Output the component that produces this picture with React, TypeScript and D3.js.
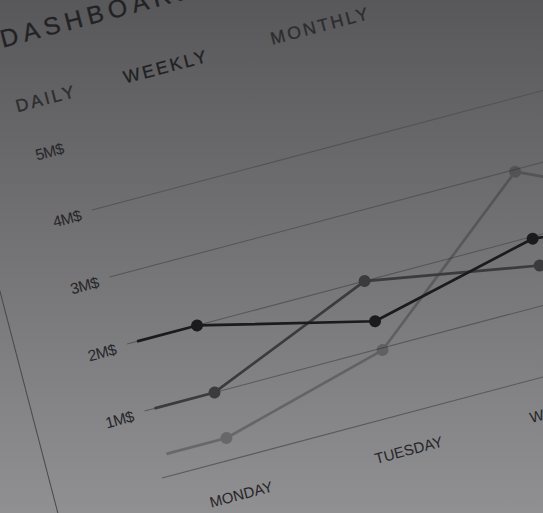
import React, { useRef, useEffect } from 'react';
import * as d3 from 'd3';

// chart values
const days = ['MONDAY', 'TUESDAY', 'WEDNESDAY', 'THURSDAY'];
const seriesA = [2.0, 1.4, 1.97, 1.7];
const seriesB = [1.0, 2.0, 1.57, 1.9];
const seriesC = [0.32, 0.97, 2.97, 1.8];
const yTicks = [1, 2, 3, 4, 5];
const gridValues = [0, 1, 2, 3, 4];
const tabs = ['DAILY', 'WEEKLY', 'MONTHLY'];
const title = 'DASHBOARD';

const App = () => {
  const ref = useRef<SVGSVGElement | null>(null);

  useEffect(() => {
    if (!ref.current) return;
    const svg = d3.select(ref.current);
    svg.selectAll('*').remove();

    const W = 543;
    const H = 513;

    const defs = svg.append('defs');
    const grad = defs.append('linearGradient')
      .attr('id', 'bg')
      .attr('x1', 0).attr('y1', 0).attr('x2', 0).attr('y2', 1);
    grad.append('stop').attr('offset', '0%').attr('stop-color', '#58575a');
    grad.append('stop').attr('offset', '100%').attr('stop-color', '#908f92');

    svg.append('rect').attr('width', W).attr('height', H).attr('fill', 'url(#bg)');

    // flat chart, then tilted like the photo
    const plotH = 335;
    const g = svg.append('g')
      .attr('transform', 'matrix(1,-0.265,0.261,1,74.6,143)')
      .style('font-family', '"Liberation Sans", Arial, sans-serif');

    const x = d3.scalePoint<string>()
      .domain(days)
      .range([70, 572.5]);

    const y = d3.scaleLinear()
      .domain([0, 5])
      .range([plotH, 0]);

    // card border
    g.append('line')
      .attr('x1', -106).attr('x2', -106)
      .attr('y1', -300).attr('y2', 700)
      .attr('stroke', '#4a4a4c')
      .attr('stroke-width', 1);

    // title + tabs
    g.append('text')
      .attr('x', -44).attr('y', -107)
      .attr('font-size', 24)
      .attr('letter-spacing', 5)
      .attr('fill', '#222224')
      .attr('stroke', '#222224')
      .attr('stroke-width', 0.3)
      .text(title);

    const tabX = d3.scaleOrdinal<string, number>().domain(tabs).range([-46, 62, 209]);
    g.selectAll('text.tab')
      .data(tabs)
      .join('text')
      .attr('class', 'tab')
      .attr('x', d => tabX(d))
      .attr('y', -43)
      .attr('font-size', 17)
      .attr('letter-spacing', 2.5)
      .attr('fill', d => (d === 'WEEKLY' ? '#202022' : '#2c2c2e'))
      .attr('stroke', d => (d === 'WEEKLY' ? '#202022' : '#2c2c2e'))
      .attr('stroke-width', 0.3)
      .text(d => d);

    // gridlines
    g.selectAll('line.grid')
      .data(gridValues)
      .join('line')
      .attr('class', 'grid')
      .attr('x1', 0).attr('x2', 800)
      .attr('y1', d => y(d)).attr('y2', d => y(d))
      .attr('stroke', '#4e4e50')
      .attr('stroke-opacity', 0.8)
      .attr('stroke-width', 1);

    // y labels
    g.selectAll('text.ytick')
      .data(yTicks)
      .join('text')
      .attr('class', 'ytick')
      .attr('x', -12)
      .attr('y', d => y(d) + 7)
      .attr('text-anchor', 'end')
      .attr('font-size', 15)
      .attr('letter-spacing', -0.6)
      .attr('fill', '#262628')
      .text(d => `${d}M$`);

    // x labels
    g.selectAll('text.xtick')
      .data(days)
      .join('text')
      .attr('class', 'xtick')
      .attr('x', d => x(d) as number)
      .attr('y', plotH + 40)
      .attr('text-anchor', 'middle')
      .attr('font-size', 14.5)
      .attr('fill', '#262628')
      .text(d => d);

    const series = [
      { values: seriesC, color: '#1e1e20', opacity: 0.3 },
      { values: seriesB, color: '#3b3a3d', opacity: 1 },
      { values: seriesA, color: '#1b1b1c', opacity: 1 },
    ];

    const line = d3.line<[number, number]>()
      .x(d => d[0])
      .y(d => y(d[1]));

    series.forEach(s => {
      const sg = g.append('g').attr('opacity', s.opacity);
      const pts: [number, number][] = days.map((d, i) => [x(d) as number, s.values[i]]);
      pts.unshift([10, s.values[0]]);
      sg.append('path')
        .attr('d', line(pts))
        .attr('fill', 'none')
        .attr('stroke', s.color)
        .attr('stroke-width', 2.6)
        .attr('stroke-linejoin', 'round');
      sg.selectAll(null)
        .data(days)
        .join('circle')
        .attr('cx', d => x(d) as number)
        .attr('cy', (d, i) => y(s.values[i]))
        .attr('r', 5.8)
        .attr('fill', s.color);
    });
  }, []);

  return (
    <svg
      ref={ref}
      width={543}
      height={513}
      style={{ position: 'absolute', left: 0, top: 0, display: 'block' }}
    />
  );
};

export default App;
